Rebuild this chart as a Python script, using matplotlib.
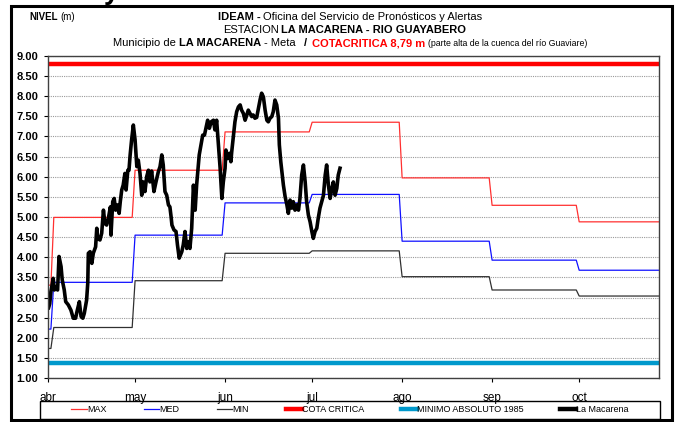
import numpy as np
import matplotlib
matplotlib.use('Agg')
import matplotlib.pyplot as plt
from matplotlib.lines import Line2D
from matplotlib.patches import Rectangle

plt.rcParams['font.family'] = ['Liberation Sans Narrow', 'Liberation Sans', 'DejaVu Sans']

ANCHO, ALTO = 679, 422

# Meses del periodo y su numero de dias (desde el 1 de abril)
meses = ['abr', 'may', 'jun', 'jul', 'ago', 'sep', 'oct']
dias_mes = [30, 31, 30, 31, 31, 30, 31]

# Niveles historicos mensuales (m)
nivel_max = [4.99, 6.16, 7.11, 7.35, 5.97, 5.29, 4.88]
nivel_med = [3.38, 4.55, 5.35, 5.56, 4.40, 3.93, 3.68]
nivel_min = [2.26, 3.42, 4.10, 4.16, 3.52, 3.19, 3.04]
# los dos primeros dias de abril tienen otro valor
inicio_max = [3.31, 3.31]
inicio_med = [2.22, 2.22]
inicio_min = [1.74, 1.74]

cota_critica = 8.79
minimo_absoluto = 1.37

# Lecturas de la estacion La Macarena (dia desde el 1 de abril, nivel en m)
dia_obs = [0.2, 0.6, 1.0, 1.5, 1.8, 2.2, 2.7, 3.3, 3.8, 4.5, 4.9, 5.6, 6.1, 7.0, 7.9,
           8.7, 9.5, 10.1, 10.8, 11.4, 12.0, 12.5, 13.3, 13.7, 13.9, 14.5, 15.1, 15.6,
           16.4, 16.8, 17.1, 17.9, 18.5, 19.1, 19.6, 20.2, 20.8, 21.5, 21.7, 22.3, 22.8,
           23.3, 24.0, 24.5, 24.9, 25.4, 25.9, 26.5, 26.9, 27.5, 27.9, 28.3, 28.8, 29.4,
           30.0, 30.6, 31.1, 31.7, 32.3, 32.8, 33.4, 34.0, 34.6, 35.1, 35.7, 36.5, 37.2,
           38.0, 38.6, 39.2, 39.7, 40.3, 40.9, 41.5, 42.0, 42.4, 42.7, 43.4, 44.1, 44.6,
           45.2, 46.1, 46.6, 47.2, 47.8, 48.3, 48.9, 49.5, 50.1, 50.7, 51.2, 52.1, 52.7,
           53.3, 53.9, 54.4, 55.0, 55.6, 56.2, 57.0, 57.5, 58.1, 58.7, 59.3, 59.9, 60.4,
           61.0, 61.3, 61.8, 62.5, 63.0, 63.3, 63.9, 64.4, 65.0, 65.6, 66.2, 66.7, 67.3,
           67.9, 68.5, 69.0, 69.6, 70.2, 70.7, 71.3, 71.9, 72.5, 73.1, 73.6, 74.2, 74.8,
           75.4, 75.9, 76.5, 77.1, 77.6, 78.2, 78.8, 79.4, 79.7, 80.2, 80.6, 81.1, 81.7,
           82.3, 82.8, 83.4, 84.0, 84.5, 85.1, 85.7, 86.3, 86.8, 87.4, 88.0, 88.6, 89.1,
           89.7, 90.3, 90.9, 91.4, 92.0, 92.6, 93.1, 93.7, 94.3, 94.9, 95.5, 96.0, 96.6,
           97.2, 97.8, 98.3, 98.9, 99.5, 100.0, 100.6]
nivel_obs = [2.75, 2.85, 3.15, 3.36, 3.48, 3.19, 3.27, 3.19, 4.02, 3.77, 3.44, 3.19, 2.90,
             2.82, 2.69, 2.49, 2.49, 2.69, 2.90, 2.53, 2.49, 2.61, 2.94, 3.36, 4.10, 4.14,
             3.85, 4.10, 4.26, 4.72, 4.47, 4.43, 4.60, 5.17, 4.84, 4.80, 4.97, 5.25, 4.55,
             5.38, 5.46, 5.17, 5.30, 5.09, 5.38, 5.67, 5.79, 6.08, 5.67, 6.16, 6.16, 6.54,
             6.91, 7.28, 6.91, 6.25, 6.41, 6.08, 5.54, 5.87, 5.63, 6.00, 6.16, 5.87, 6.14,
             5.63, 5.87, 6.12, 6.25, 6.54, 6.29, 5.63, 5.54, 5.30, 5.25, 5.01, 4.80, 4.68,
             4.64, 4.31, 3.98, 4.14, 4.31, 4.64, 4.22, 4.39, 4.22, 4.72, 5.79, 5.17, 5.79,
             6.54, 6.79, 7.03, 7.03, 7.20, 7.40, 7.20, 7.36, 7.40, 7.16, 7.40, 6.79, 6.21,
             5.46, 5.87, 6.21, 6.66, 6.45, 6.58, 6.37, 6.62, 7.03, 7.36, 7.61, 7.73, 7.78,
             7.65, 7.57, 7.40, 7.53, 7.65, 7.57, 7.49, 7.53, 7.45, 7.47, 7.70, 7.92, 8.07,
             7.98, 7.65, 7.40, 7.36, 7.45, 7.49, 7.61, 7.90, 7.78, 7.45, 6.79, 6.37, 6.12,
             5.79, 5.50, 5.30, 5.09, 5.42, 5.22, 5.38, 5.17, 5.30, 5.17, 5.46, 6.04, 6.29,
             5.87, 5.38, 5.05, 4.88, 4.64, 4.47, 4.64, 4.72, 4.97, 5.22, 5.38, 5.54, 6.04,
             6.29, 5.79, 5.46, 5.71, 5.87, 5.54, 5.71, 6.04, 6.21]


def fx(px):
    return px / ANCHO


def fy(py):
    return 1 - py / ALTO


def serie_diaria(inicio, mensual):
    # un valor por dia, constante dentro de cada mes
    valores = np.repeat(np.array(mensual, dtype=float), dias_mes)
    valores[:len(inicio)] = inicio
    return valores


def linea_texto(fig, y_px, partes, centro_px=None, izquierda_px=None):
    '''
        Escribe una linea de texto con partes de distinto estilo

        Parameters:
            fig (Figure): figura donde se escribe
            y_px (float): linea base, en pixeles desde arriba
            partes (list): tuplas (texto, propiedades, espacio previo en px)
            centro_px (float): centro de la linea, o
            izquierda_px (float): borde izquierdo de la linea
    '''
    renderer = fig.canvas.get_renderer()
    textos = []
    x = 0
    for texto, props, espacio in partes:
        x += espacio
        t = fig.text(0, fy(y_px), texto, ha='left', va='baseline', **props)
        textos.append((t, x))
        x += t.get_window_extent(renderer).width
    inicio = izquierda_px if izquierda_px is not None else centro_px - x / 2
    for t, x0 in textos:
        t.set_x(fx(inicio + x0))


fig = plt.figure(figsize=(ANCHO / 100, ALTO / 100), dpi=100)

# Marco exterior
fig.patches.append(Rectangle((fx(11), fy(420)), fx(672) - fx(11), fy(6) - fy(420),
                             transform=fig.transFigure, fill=False, lw=2.2, ec='black'))
fig.text(fx(112), fy(-1), 'y', fontsize=20, weight='bold', ha='center', va='baseline')

ax = fig.add_axes([fx(48), fy(378.3), fx(659) - fx(48), fy(55.7) - fy(378.3)])

dias = np.arange(sum(dias_mes))
inicio_mes = np.concatenate([[0], np.cumsum(dias_mes)[:-1]])

ax.plot(dias, serie_diaria(inicio_max, nivel_max), color='#ff3030', lw=0.9)
ax.plot(dias, serie_diaria(inicio_med, nivel_med), color='#1010ff', lw=0.9)
ax.plot(dias, serie_diaria(inicio_min, nivel_min), color='#303030', lw=0.9)
ax.axhline(cota_critica, color='#ff0000', lw=3.2)
ax.axhline(minimo_absoluto, color='#0099cc', lw=3.2)
ax.plot(dia_obs, nivel_obs, color='black', lw=2.6, solid_joinstyle='round')

ax.set_xlim(0, 210.5)
ax.set_ylim(1, 9)
ax.set_yticks(np.arange(1, 9.01, 0.5))
ax.set_yticklabels(['%.2f' % v for v in np.arange(1, 9.01, 0.5)],
                   fontsize=8, fontweight='bold')
ax.set_xticks(inicio_mes)
ax.set_xticklabels(meses, fontsize=8.5)
ax.tick_params(axis='y', length=3, width=0.8, pad=4)
ax.tick_params(axis='x', length=3, width=0.8, pad=7)
ax.grid(axis='y', color='#9a9a9a', lw=0.8, ls=(0, (1, 1)))
ax.set_axisbelow(True)
for lado in ax.spines.values():
    lado.set_color('#404040')
    lado.set_linewidth(1)

# Titulos
normal = dict(fontsize=8)
negrita = dict(fontsize=8, fontweight='bold')
linea_texto(fig, 20, [('IDEAM -', negrita, 0),
                      ('Oficina del Servicio de Pronósticos y Alertas', normal, 3)], centro_px=350)
linea_texto(fig, 33, [('ESTACION', normal, 0),
                      ('LA MACARENA - RIO GUAYABERO', negrita, 2)], centro_px=345)
linea_texto(fig, 46, [('Municipio de', normal, 0),
                      ('LA MACARENA', negrita, 3),
                      ('- Meta', normal, 3),
                      ('/', negrita, 8),
                      ('COTACRITICA 8,79 m', dict(fontsize=8, fontweight='bold', color='#ff0000'), 5),
                      ('(parte alta de la cuenca del río Guaviare)', dict(fontsize=6.3), 3)],
            centro_px=350)
linea_texto(fig, 20, [('NIVEL', dict(fontsize=7, fontweight='bold'), 0),
                      ('(m)', dict(fontsize=7), 3)], izquierda_px=29)

# Leyenda inferior
handles = [Line2D([], [], color='#ff3030', lw=0.9),
           Line2D([], [], color='#1010ff', lw=0.9),
           Line2D([], [], color='#303030', lw=0.9),
           Line2D([], [], color='#ff0000', lw=3.2),
           Line2D([], [], color='#0099cc', lw=3.2),
           Line2D([], [], color='black', lw=3.2)]
etiquetas = ['MAX', 'MED', 'MIN', 'COTA CRITICA', 'MINIMO ABSOLUTO 1985', 'La Macarena']
fig.legend(handles, etiquetas, loc='center', bbox_to_anchor=(fx(350), fy(410)), ncol=6,
           frameon=False, fontsize=6.5, handlelength=1.75, handletextpad=0.0,
           columnspacing=4.1)
fig.patches.append(Rectangle((fx(40), fy(419)), fx(660) - fx(40), fy(401) - fy(419),
                             transform=fig.transFigure, fill=False, lw=1, ec='black'))

fig.savefig('out.png', dpi=100)
